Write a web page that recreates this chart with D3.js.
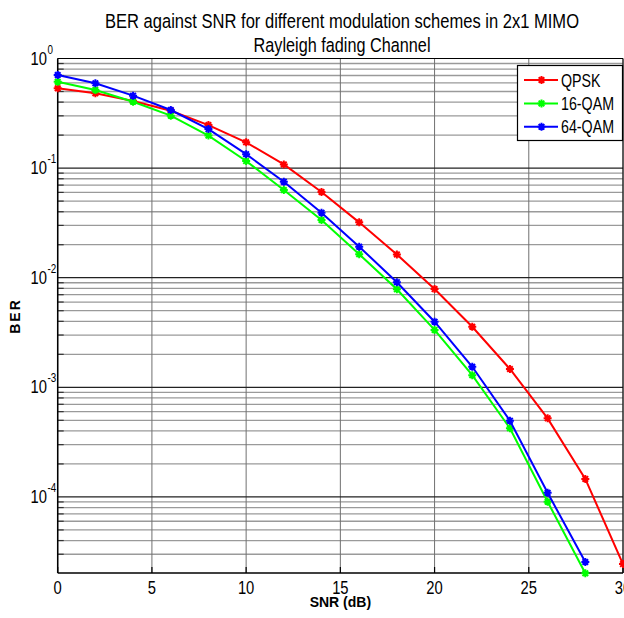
<!DOCTYPE html>
<html>
<head>
<meta charset="utf-8">
<style>
  body { margin: 0; background: #fff; }
  svg { display: block; }
  .narrow { font-family: "Liberation Sans", Arial, sans-serif; fill: #000; }
</style>
</head>
<body>
<div id="container"></div>
<script src="https://cdn.jsdelivr.net/npm/d3@7"></script>
<script>

// data
var snrQpsk = [0, 2, 4, 6, 8, 10, 12, 14, 16, 18, 20, 22, 24, 26, 28, 30];
var snrQam  = [0, 2, 4, 6, 8, 10, 12, 14, 16, 18, 20, 22, 24, 26, 28];

var berQpsk  = [0.534, 0.481, 0.409, 0.334, 0.247, 0.172, 0.108, 0.0605, 0.032, 0.0163, 0.00788, 0.00357, 0.00147, 0.000521, 0.000146, 0.0000244];
var ber16qam = [0.614, 0.516, 0.403, 0.301, 0.198, 0.116, 0.0631, 0.0336, 0.0164, 0.00784, 0.00334, 0.00129, 0.000423, 0.0000904, 0.0000201];
var ber64qam = [0.707, 0.594, 0.458, 0.339, 0.227, 0.134, 0.0752, 0.0392, 0.0192, 0.0091, 0.00397, 0.00154, 0.000496, 0.000109, 0.0000255];

var seriesNames = ["QPSK", "16-QAM", "64-QAM"];
var seriesColors = ["#ff0000", "#00ff00", "#0000ff"];

var xTicks = [0, 5, 10, 15, 20, 25, 30];
var yDecades = [0, -1, -2, -3, -4];

var titleLines = ["BER against SNR for different modulation schemes in 2x1 MIMO", "Rayleigh fading Channel"];

// layout (names avoid window.top etc.)
var W = 624, H = 618;
var pl = 57.7, pr = 623, pt = 58.5, pb = 573;

var svg = d3.select("#container")
  .append("svg")
    .attr("width", W)
    .attr("height", H);

svg.append("rect").attr("width", W).attr("height", H).attr("fill", "#fff");

var x = d3.scaleLinear().domain([0, 30]).range([pl, pr]);
var y = d3.scaleLog().domain([Math.pow(10, -4.694), 1]).range([pb, pt]);

// squeeze regular Liberation Sans to look like a narrow face
function narrow(sel, f) {
  sel.each(function() {
    var w = this.getComputedTextLength();
    d3.select(this)
      .attr("textLength", w * (f || 0.82))
      .attr("lengthAdjust", "spacingAndGlyphs");
  });
}

// horizontal grid, minor then major
var minorTicks = y.ticks().filter(function(v) {
  var l = Math.log10(v);
  return Math.abs(l - Math.round(l)) > 1e-6;
});

svg.append("g")
  .selectAll("line")
  .data(minorTicks)
  .enter()
  .append("line")
    .attr("x1", pl).attr("x2", pr)
    .attr("y1", function(d) { return y(d); })
    .attr("y2", function(d) { return y(d); })
    .attr("stroke", "#9a9a9a")
    .attr("stroke-width", 1.3);

// vertical grid
svg.append("g")
  .selectAll("line")
  .data(xTicks)
  .enter()
  .append("line")
    .attr("x1", function(d) { return x(d); })
    .attr("x2", function(d) { return x(d); })
    .attr("y1", pt).attr("y2", pb)
    .attr("stroke", "#707070")
    .attr("stroke-width", 1);

svg.append("g")
  .selectAll("line")
  .data(yDecades)
  .enter()
  .append("line")
    .attr("x1", pl).attr("x2", pr)
    .attr("y1", function(d) { return y(Math.pow(10, d)); })
    .attr("y2", function(d) { return y(Math.pow(10, d)); })
    .attr("stroke", "#222")
    .attr("stroke-width", 1.2);

// left minor ticks (inside)
svg.append("g")
  .selectAll("line")
  .data(minorTicks)
  .enter()
  .append("line")
    .attr("x1", pl).attr("x2", pl + 6)
    .attr("y1", function(d) { return y(d); })
    .attr("y2", function(d) { return y(d); })
    .attr("stroke", "#333")
    .attr("stroke-width", 1.2);

// bottom ticks (inside)
svg.append("g")
  .selectAll("line")
  .data(xTicks)
  .enter()
  .append("line")
    .attr("x1", function(d) { return x(d); })
    .attr("x2", function(d) { return x(d); })
    .attr("y1", pb).attr("y2", pb - 6)
    .attr("stroke", "#000")
    .attr("stroke-width", 1.2);

// axis box
svg.append("line").attr("x1", pl).attr("x2", pl).attr("y1", pt).attr("y2", pb)
  .attr("stroke", "#000").attr("stroke-width", 1.5);
svg.append("line").attr("x1", pl).attr("x2", pr).attr("y1", pb).attr("y2", pb)
  .attr("stroke", "#000").attr("stroke-width", 1.5);
svg.append("line").attr("x1", pl).attr("x2", pr).attr("y1", pt).attr("y2", pt)
  .attr("stroke", "#000").attr("stroke-width", 1);
svg.append("line").attr("x1", pr).attr("x2", pr).attr("y1", pt).attr("y2", pb)
  .attr("stroke", "#000").attr("stroke-width", 1);

// x tick labels
var xLab = svg.append("g")
  .selectAll("text")
  .data(xTicks)
  .enter()
  .append("text")
    .attr("class", "narrow")
    .attr("x", function(d) { return x(d); })
    .attr("y", 594)
    .attr("text-anchor", "middle")
    .style("font-size", "18px")
    .text(function(d) { return d; });
narrow(xLab);

// y tick labels 10^n : base then superscript
var yLab = svg.append("g")
  .selectAll("g")
  .data(yDecades)
  .enter()
  .append("g");

yLab.append("text")
  .attr("class", "narrow")
  .attr("x", 47)
  .attr("y", function(d) { return y(Math.pow(10, d)) + 6; })
  .attr("text-anchor", "end")
  .style("font-size", "18px")
  .text("10");
yLab.append("text")
  .attr("class", "narrow")
  .attr("x", 47.5)
  .attr("y", function(d) { return y(Math.pow(10, d)) - 5; })
  .attr("text-anchor", "start")
  .style("font-size", "12px")
  .text(function(d) { return d; });
narrow(yLab.selectAll("text"));

// axis labels
svg.append("text")
  .attr("x", (pl + pr) / 2)
  .attr("y", 607)
  .attr("text-anchor", "middle")
  .style("font-family", "'Liberation Sans', Arial, sans-serif")
  .style("font-weight", "bold")
  .style("font-size", "14px")
  .text("SNR (dB)");

svg.append("text")
  .attr("transform", "translate(20," + 316 + ") rotate(-90)")
  .attr("text-anchor", "middle")
  .style("font-family", "'Liberation Sans', Arial, sans-serif")
  .style("font-weight", "bold")
  .style("font-size", "14px")
  .style("letter-spacing", "2px")
  .text("BER");

// title
var titleWidths = [474, 177];
svg.append("g")
  .selectAll("text")
  .data(titleLines)
  .enter()
  .append("text")
    .attr("class", "narrow")
    .attr("x", 342)
    .attr("y", function(d, i) { return 28 + i * 24; })
    .attr("text-anchor", "middle")
    .attr("textLength", function(d, i) { return titleWidths[i]; })
    .attr("lengthAdjust", "spacingAndGlyphs")
    .style("font-size", "20.5px")
    .text(function(d) { return d; });

// series
var series = [
  { name: seriesNames[0], color: seriesColors[0], xs: snrQpsk, ys: berQpsk },
  { name: seriesNames[1], color: seriesColors[1], xs: snrQam, ys: ber16qam },
  { name: seriesNames[2], color: seriesColors[2], xs: snrQam, ys: ber64qam }
];

var line = d3.line()
  .x(function(d) { return x(d[0]); })
  .y(function(d) { return y(d[1]); });

function marker(g, cx, cy, color) {
  var s = 4;
  var p = "M" + (cx - s) + "," + cy + "h" + (2 * s) +
          "M" + cx + "," + (cy - s) + "v" + (2 * s) +
          "M" + (cx - s * 0.7) + "," + (cy - s * 0.7) + "l" + (1.4 * s) + "," + (1.4 * s) +
          "M" + (cx - s * 0.7) + "," + (cy + s * 0.7) + "l" + (1.4 * s) + "," + (-1.4 * s);
  g.append("path").attr("d", p).attr("stroke", color).attr("stroke-width", 2).attr("fill", "none");
}

var plot = svg.append("g");
series.forEach(function(s) {
  var pts = s.xs.map(function(v, i) { return [v, s.ys[i]]; });
  plot.append("path")
    .datum(pts)
    .attr("d", line)
    .attr("fill", "none")
    .attr("stroke", s.color)
    .attr("stroke-width", 2);
  pts.forEach(function(p) { marker(plot, x(p[0]), y(p[1]), s.color); });
});

// legend
var legend = svg.append("g");
legend.append("rect")
  .attr("x", 517.5).attr("y", 65.5)
  .attr("width", 105).attr("height", 75)
  .attr("fill", "#fff")
  .attr("stroke", "#000")
  .attr("stroke-width", 1.2);

series.forEach(function(s, i) {
  var ly = 80 + i * 23.4;
  legend.append("line")
    .attr("x1", 524).attr("x2", 558)
    .attr("y1", ly).attr("y2", ly)
    .attr("stroke", s.color).attr("stroke-width", 2);
  marker(legend, 541.5, ly, s.color);
  var t = legend.append("text")
    .attr("class", "narrow")
    .attr("x", 561)
    .attr("y", ly + 6.5)
    .style("font-size", "18.5px")
    .text(s.name);
  narrow(t, 0.77);
});

</script>
</body>
</html>
